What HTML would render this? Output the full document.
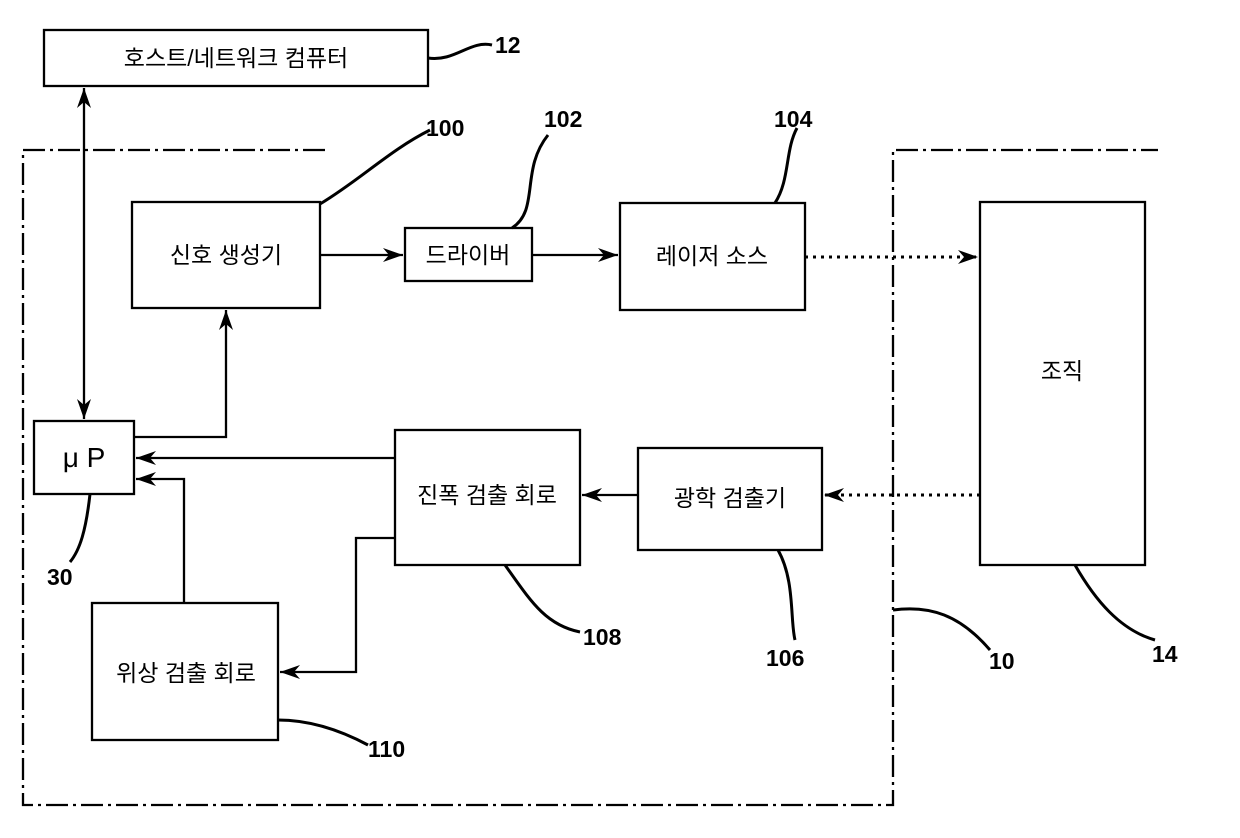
<!DOCTYPE html>
<html><head><meta charset="utf-8"><style>
body{margin:0;background:#fff}
svg text{font-family:"Liberation Sans","Noto Sans CJK KR",sans-serif;fill:#000}
.b{font-size:23px}
.n{font-size:23px;font-weight:bold}
</style></head><body>
<svg width="1240" height="833" viewBox="0 0 1240 833" xmlns="http://www.w3.org/2000/svg">
<defs>
<marker id="a" markerWidth="22" markerHeight="14" refX="20" refY="7" orient="auto" markerUnits="userSpaceOnUse">
<path d="M0,0 L20,7 L0,14 L6,7 Z" fill="#000"/></marker>
<marker id="s" markerWidth="22" markerHeight="14" refX="20" refY="7" orient="auto-start-reverse" markerUnits="userSpaceOnUse">
<path d="M0,0 L20,7 L0,14 L6,7 Z" fill="#000"/></marker>
</defs>
<g fill="none" stroke="#000" stroke-width="2.3">
<path d="M325,150 H23 V805 H893 V150 H1158" stroke-dasharray="22,5,3,5"/>
<rect x="44" y="30" width="384" height="56"/>
<rect x="132" y="202" width="188" height="106"/>
<rect x="405" y="228" width="127" height="53"/>
<rect x="620" y="203" width="185" height="107"/>
<rect x="980" y="202" width="165" height="363"/>
<rect x="34" y="421" width="100" height="73"/>
<rect x="395" y="430" width="185" height="135"/>
<rect x="638" y="448" width="184" height="102"/>
<rect x="92" y="603" width="186" height="137"/>
<line x1="84" y1="88" x2="84" y2="419" marker-start="url(#s)" marker-end="url(#a)"/>
<path d="M134,437 H226 V310" marker-end="url(#a)"/>
<line x1="320" y1="255" x2="403" y2="255" marker-end="url(#a)"/>
<line x1="532" y1="255" x2="618" y2="255" marker-end="url(#a)"/>
<line x1="805" y1="257" x2="978" y2="257" stroke-width="3" stroke-dasharray="3,5" marker-end="url(#a)"/>
<line x1="980" y1="495" x2="824" y2="495" stroke-width="3" stroke-dasharray="3,5" marker-end="url(#a)"/>
<line x1="638" y1="495" x2="582" y2="495" marker-end="url(#a)"/>
<line x1="395" y1="458" x2="136" y2="458" marker-end="url(#a)"/>
<path d="M184,603 V479 H136" marker-end="url(#a)"/>
<path d="M395,538 H356 V672 H280" marker-end="url(#a)"/>
<g stroke-width="3">
<path d="M428,58 C455,62 470,40 492,45"/>
<path d="M320,204 C360,180 390,150 430,130"/>
<path d="M512,228 C540,210 520,170 548,135"/>
<path d="M775,203 C790,180 785,150 797,128"/>
<path d="M90,494 C86,530 80,550 70,562"/>
<path d="M505,565 C530,600 545,625 580,632"/>
<path d="M778,550 C795,580 790,620 795,640"/>
<path d="M893,610 C930,605 960,615 990,650"/>
<path d="M1075,565 C1095,600 1120,630 1155,640"/>
<path d="M278,720 C310,720 340,730 368,745"/>
</g>
</g>
<g class="b" text-anchor="middle">
<text x="236" y="66">호스트/네트워크 컴퓨터</text>
<text x="226" y="263">신호 생성기</text>
<text x="468" y="263">드라이버</text>
<text x="712" y="264">레이저 소스</text>
<text x="1062" y="379">조직</text>
<text x="84" y="467" font-size="28">μ P</text>
<text x="487" y="503">진폭 검출 회로</text>
<text x="730" y="506">광학 검출기</text>
<text x="186" y="681">위상 검출 회로</text>
</g>
<g class="n">
<text x="495" y="53">12</text>
<text x="426" y="136">100</text>
<text x="544" y="127">102</text>
<text x="774" y="127">104</text>
<text x="47" y="585">30</text>
<text x="583" y="645">108</text>
<text x="766" y="666">106</text>
<text x="989" y="669">10</text>
<text x="1152" y="662">14</text>
<text x="368" y="757">110</text>
</g>
</svg>
</body></html>
